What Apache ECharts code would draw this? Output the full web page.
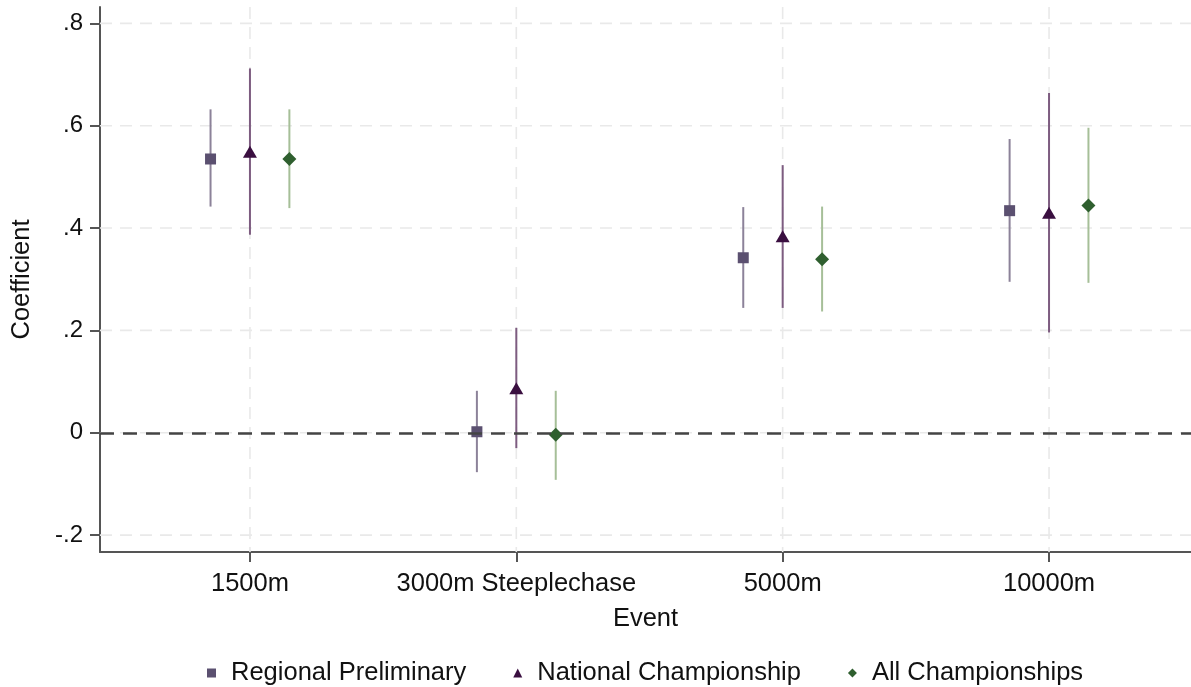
<!DOCTYPE html>
<html>
<head>
<meta charset="utf-8">
<script src="https://cdn.jsdelivr.net/npm/echarts@6/dist/echarts.min.js"></script>
<style>html,body{margin:0;padding:0;background:#fff}#c{width:1191px;height:687px}</style>
</head>
<body>
<div id="c"></div>
<script>
// Categories (x positions 1..4)
var categories = ['1500m', '3000m Steeplechase', '5000m', '10000m'];
var seriesNames = ['Regional Preliminary', 'National Championship', 'All Championships'];
// point estimates per category
var regionalCoef = [0.535, 0.002, 0.342, 0.434];
var nationalCoef = [0.549, 0.087, 0.384, 0.430];
var allCoef      = [0.535, -0.004, 0.339, 0.444];
// lower / upper confidence bounds
var regionalLow  = [0.442, -0.077, 0.244, 0.295];
var regionalHigh = [0.632, 0.082, 0.441, 0.574];
var nationalLow  = [0.387, -0.030, 0.244, 0.196];
var nationalHigh = [0.712, 0.205, 0.523, 0.664];
var allLow       = [0.439, -0.092, 0.237, 0.293];
var allHigh      = [0.632, 0.082, 0.442, 0.596];
var yTicks = [-0.2, 0, 0.2, 0.4, 0.6, 0.8];
var xTicks = [1, 2, 3, 4];
var offsets = [-0.148, 0, 0.148];

var markerColors = ['#5b5070', '#3a0f40', '#2f5f2f'];
var ciColors = ['#8c8299', '#7d5c80', '#a6bf98'];
var symbols = ['rect', 'triangle', 'diamond'];
var symbolSizes = [[11, 11], [14, 12], [14, 14]];
var coefs = [regionalCoef, nationalCoef, allCoef];
var lows = [regionalLow, nationalLow, allLow];
var highs = [regionalHigh, nationalHigh, allHigh];

function fmtY(v) {
  if (Math.abs(v) < 1e-9) return '0';
  var s = String(Math.round(v * 10) / 10);
  return s.replace('0.', '.');
}

var FONT = 'Liberation Sans, Arial, sans-serif';
var series = [];

// grid lines
series.push({
  type: 'custom',
  name: '_grid',
  z: 1,
  silent: true,
  data: [0],
  renderItem: function (params, api) {
    var cs = params.coordSys;
    var children = [];
    yTicks.forEach(function (t) {
      var p = api.coord([0.437, t]);
      children.push({type: 'line', shape: {x1: cs.x, y1: p[1], x2: cs.x + cs.width, y2: p[1]},
        style: {stroke: '#e9e9e9', lineWidth: 1.6, lineDash: [12, 8]}});
    });
    xTicks.forEach(function (t) {
      var p = api.coord([t, 0]);
      children.push({type: 'line', shape: {x1: p[0], y1: cs.y, x2: p[0], y2: cs.y + cs.height},
        style: {stroke: '#e9e9e9', lineWidth: 1.6, lineDash: [12, 8]}});
    });
    return {type: 'group', children: children};
  },
  markLine: {
    silent: true,
    symbol: 'none',
    label: {show: false},
    lineStyle: {color: '#444444', width: 2.6, type: [14, 9]},
    data: [{yAxis: 0}]
  }
});

for (var s = 0; s < 3; s++) {
  (function (s) {
    var ciData = [], ptData = [];
    for (var i = 0; i < categories.length; i++) {
      ciData.push([xTicks[i] + offsets[s], lows[s][i], highs[s][i]]);
      ptData.push([xTicks[i] + offsets[s], coefs[s][i]]);
    }
    series.push({
      type: 'custom',
      name: '_ci' + s,
      z: 3,
      silent: true,
      encode: {x: 0, y: [1, 2]},
      data: ciData,
      renderItem: function (params, api) {
        var a = api.coord([api.value(0), api.value(1)]);
        var b = api.coord([api.value(0), api.value(2)]);
        return {type: 'line', shape: {x1: a[0], y1: a[1], x2: b[0], y2: b[1]},
          style: {stroke: ciColors[s], lineWidth: 2}};
      }
    });
    series.push({
      type: 'scatter',
      name: seriesNames[s],
      z: 4,
      symbol: symbols[s],
      symbolSize: symbolSizes[s],
      itemStyle: {color: markerColors[s], opacity: 1},
      data: ptData
    });
  })(s);
}

var chart = echarts.init(document.getElementById('c'));
chart.setOption({
  animation: false,
  backgroundColor: '#ffffff',
  grid: {left: 100, right: 0, top: 7, bottom: 135},
  legend: {
    left: 202, top: 655,
    itemWidth: 9, itemHeight: 9,
    itemGap: 47,
    textStyle: {fontFamily: FONT, fontSize: 25.5, color: '#111', padding: [0, 0, 0, 10]},
    data: [
      {name: seriesNames[0], icon: 'rect'},
      {name: seriesNames[1], icon: 'triangle'},
      {name: seriesNames[2], icon: 'diamond'}
    ]
  },
  xAxis: {
    type: 'value',
    min: 0.437, max: 4.533,
    name: 'Event',
    nameLocation: 'middle',
    nameGap: 54,
    nameTextStyle: {fontFamily: FONT, fontSize: 25.5, color: '#111'},
    axisLine: {show: true, onZero: false, lineStyle: {color: '#555', width: 2}},
    axisTick: {show: true, length: 10, lineStyle: {color: '#555', width: 2}, customValues: xTicks},
    axisLabel: {
      fontFamily: FONT, fontSize: 25.5, color: '#111', margin: 19,
      customValues: xTicks,
      formatter: function (v) { return categories[Math.round(v) - 1] || ''; }
    },
    splitLine: {show: false}
  },
  yAxis: {
    type: 'value',
    min: -0.233, max: 0.832,
    name: 'Coefficient',
    nameLocation: 'middle',
    nameRotate: 90,
    nameGap: 65,
    nameTextStyle: {fontFamily: FONT, fontSize: 25.5, color: '#111'},
    axisLine: {show: true, onZero: false, lineStyle: {color: '#555', width: 2}},
    axisTick: {show: true, length: 10, lineStyle: {color: '#555', width: 2}, customValues: yTicks},
    axisLabel: {
      fontFamily: FONT, fontSize: 24, color: '#111', margin: 17,
      customValues: yTicks,
      formatter: fmtY
    },
    splitLine: {show: false}
  },
  series: series
});
</script>
</body>
</html>
